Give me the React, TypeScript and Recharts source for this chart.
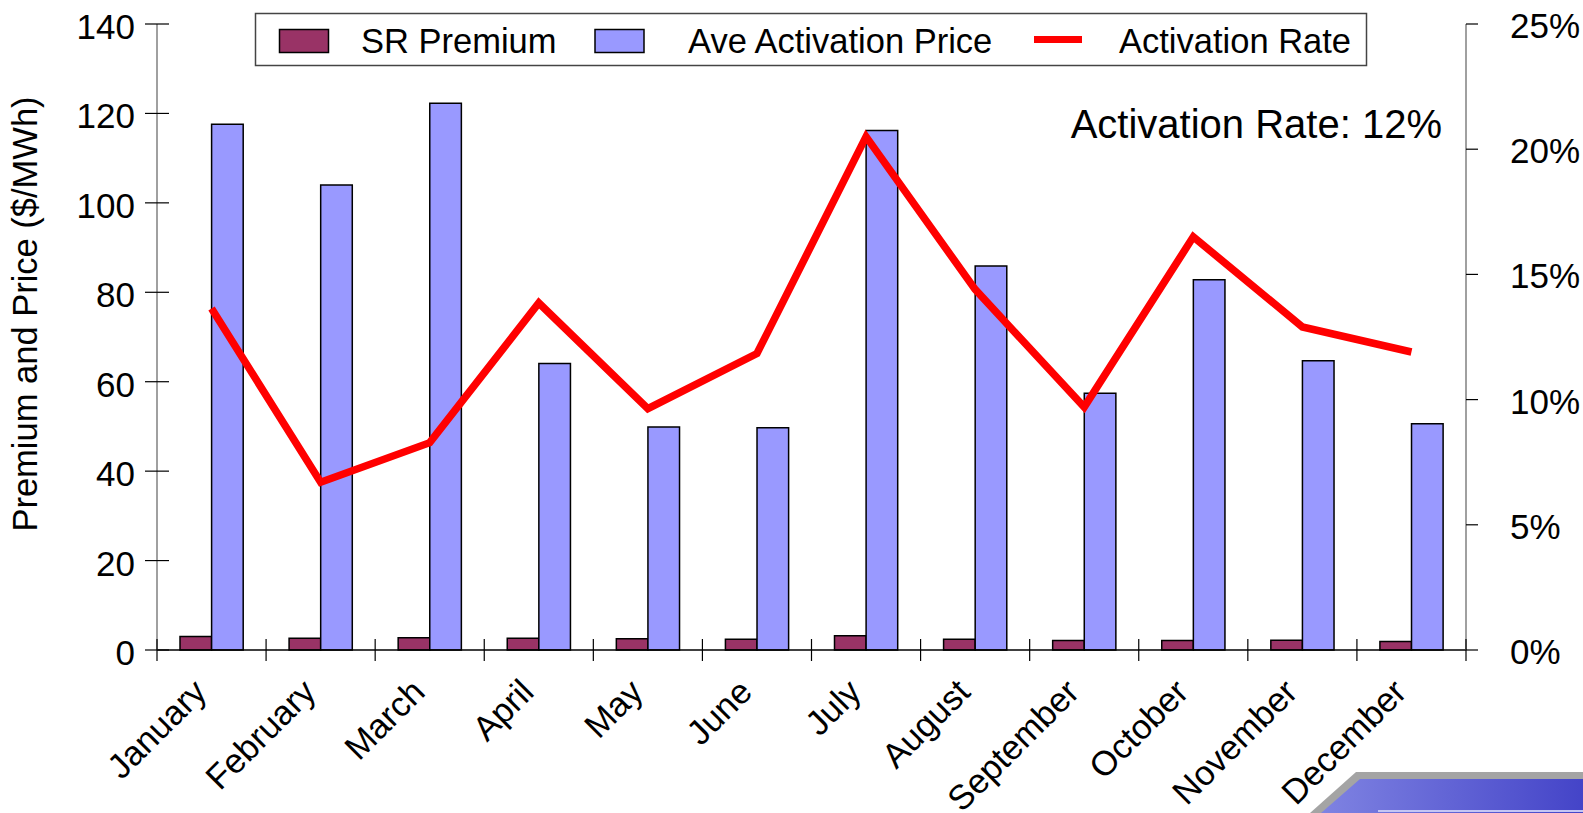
import React from 'react';
import { ComposedChart, Bar, Line, XAxis, YAxis } from 'recharts';

const months = [
  'January', 'February', 'March', 'April', 'May', 'June',
  'July', 'August', 'September', 'October', 'November', 'December'
];
const srPremium = [3.0, 2.6, 2.75, 2.6, 2.5, 2.4, 3.2, 2.4, 2.1, 2.1, 2.2, 1.9];
const avePrice = [117.6, 104.0, 122.3, 64.1, 49.9, 49.7, 116.2, 85.9, 57.4, 82.8, 64.7, 50.6];
const activationRate = [13.64, 6.7, 8.28, 13.86, 9.64, 11.84, 20.5, 14.4, 9.7, 16.5, 12.9, 11.9];
const priceTicks = [0, 20, 40, 60, 80, 100, 120, 140];
const rateTicks = [0, 5, 10, 15, 20, 25];

const data = months.map((month, i) => ({
  month,
  sr: srPremium[i],
  ave: avePrice[i],
  rate: activationRate[i]
}));

const FONT = '"Liberation Sans", Arial, sans-serif';
const W = 1583;
const H = 813;
const PLOT_LEFT = 157;
const PLOT_RIGHT = 1466;
const BAND = (PLOT_RIGHT - PLOT_LEFT) / months.length;

const MonthTick = ({ x, y, payload, index }: any) => {
  const left = x - BAND / 2;
  const tx = x - 3;
  const ty = y + 44;
  return (
    <g>
      <line x1={left} x2={left} y1={y - 11} y2={y + 11} stroke="#000" strokeWidth={1.2} />
      {index === months.length - 1 && (
        <line x1={x + BAND / 2} x2={x + BAND / 2} y1={y - 11} y2={y + 11} stroke="#000" strokeWidth={1.2} />
      )}
      <text
        x={tx}
        y={ty}
        textAnchor="end"
        transform={`rotate(-45 ${tx} ${ty})`}
        fontSize={34.5}
        fontFamily={FONT}
        fill="#000"
      >
        {payload.value}
      </text>
    </g>
  );
};

// left ticks cross the axis line
const PriceTick = ({ x, y, payload }: any) => (
  <g>
    <line x1={x + 10} x2={x + 34} y1={y} y2={y} stroke="#000" strokeWidth={1.2} />
    <text x={x} y={y + 15} textAnchor="end" fontSize={35} fontFamily={FONT} fill="#000">
      {payload.value}
    </text>
  </g>
);

const RateTick = ({ x, y, payload }: any) => (
  <text x={x} y={y + 14} textAnchor="start" fontSize={35} fontFamily={FONT} fill="#000">
    {payload.value}%
  </text>
);

const Overlay = () => (
  <svg width={W} height={H} style={{ position: 'absolute', left: 0, top: 0, pointerEvents: 'none' }}>
    <defs>
      <linearGradient id="deco" x1="0" x2="1" y1="0" y2="0">
        <stop offset="0%" stopColor="#7f83e2" />
        <stop offset="100%" stopColor="#4444c8" />
      </linearGradient>
    </defs>
    {/* legend */}
    <rect x={255.5} y={13.5} width={1111} height={52} fill="#fff" stroke="#444" strokeWidth={1.5} />
    <rect x={279.5} y={29.5} width={49} height={23} fill="#993366" stroke="#000" strokeWidth={1.5} />
    <text x={361} y={53} fontSize={34.5} fontFamily={FONT} fill="#000">SR Premium</text>
    <rect x={595} y={29.5} width={49} height={23} fill="#9999ff" stroke="#000" strokeWidth={1.5} />
    <text x={688} y={53} fontSize={34.5} fontFamily={FONT} fill="#000">Ave Activation Price</text>
    <line x1={1034} x2={1082} y1={39.5} y2={39.5} stroke="#ff0000" strokeWidth={7} />
    <text x={1119} y={53} fontSize={34.5} fontFamily={FONT} fill="#000">Activation Rate</text>

    <text x={1442} y={137.5} textAnchor="end" fontSize={40} fontFamily={FONT} fill="#000">
      Activation Rate: 12%
    </text>

    <text
      x={37}
      y={314}
      textAnchor="middle"
      transform="rotate(-90 37 314)"
      fontSize={34.5}
      fontFamily={FONT}
      fill="#000"
    >
      Premium and Price ($/MWh)
    </text>

    {/* slide decoration, bottom right */}
    <polygon points="1356,772 1583,772 1583,813 1310,813" fill="#a4a4a4" />
    <polygon points="1360,779 1583,779 1583,813 1321,813" fill="url(#deco)" />
    <line x1={1378} x2={1583} y1={811} y2={811} stroke="#c4c6f4" strokeWidth={2} />
  </svg>
);

export default function App() {
  return (
    <div style={{ position: 'absolute', left: 0, top: 0, width: W, height: H, background: '#fff' }}>
      <ComposedChart
        width={W}
        height={H}
        data={data}
        margin={{ top: 24, right: 0, bottom: 0, left: 0 }}
        barGap={0}
      >
        <XAxis
          dataKey="month"
          height={163}
          interval={0}
          tickLine={false}
          tickSize={0}
          tickMargin={0}
          axisLine={{ stroke: '#000', strokeWidth: 1.5 }}
          tick={<MonthTick />}
        />
        <YAxis
          yAxisId="price"
          width={PLOT_LEFT}
          domain={[0, 140]}
          ticks={priceTicks}
          interval={0}
          tickLine={false}
          tickSize={12}
          tickMargin={10}
          axisLine={{ stroke: '#808080', strokeWidth: 1.5 }}
          tick={<PriceTick />}
        />
        <YAxis
          yAxisId="rate"
          orientation="right"
          width={W - PLOT_RIGHT}
          domain={[0, 25]}
          ticks={rateTicks}
          interval={0}
          tickSize={12}
          tickMargin={32}
          tickLine={{ stroke: '#000', strokeWidth: 1.2 }}
          axisLine={{ stroke: '#808080', strokeWidth: 1.5 }}
          tick={<RateTick />}
        />
        <Bar
          yAxisId="price"
          dataKey="sr"
          name="SR Premium"
          fill="#993366"
          stroke="#000"
          strokeWidth={1.5}
          barSize={31.6}
          isAnimationActive={false}
        />
        <Bar
          yAxisId="price"
          dataKey="ave"
          name="Ave Activation Price"
          fill="#9999ff"
          stroke="#000"
          strokeWidth={1.5}
          barSize={31.6}
          isAnimationActive={false}
        />
        <Line
          yAxisId="rate"
          dataKey="rate"
          name="Activation Rate"
          type="linear"
          stroke="#ff0000"
          strokeWidth={7.5}
          dot={false}
          activeDot={false}
          isAnimationActive={false}
        />
      </ComposedChart>
      <Overlay />
    </div>
  );
}
